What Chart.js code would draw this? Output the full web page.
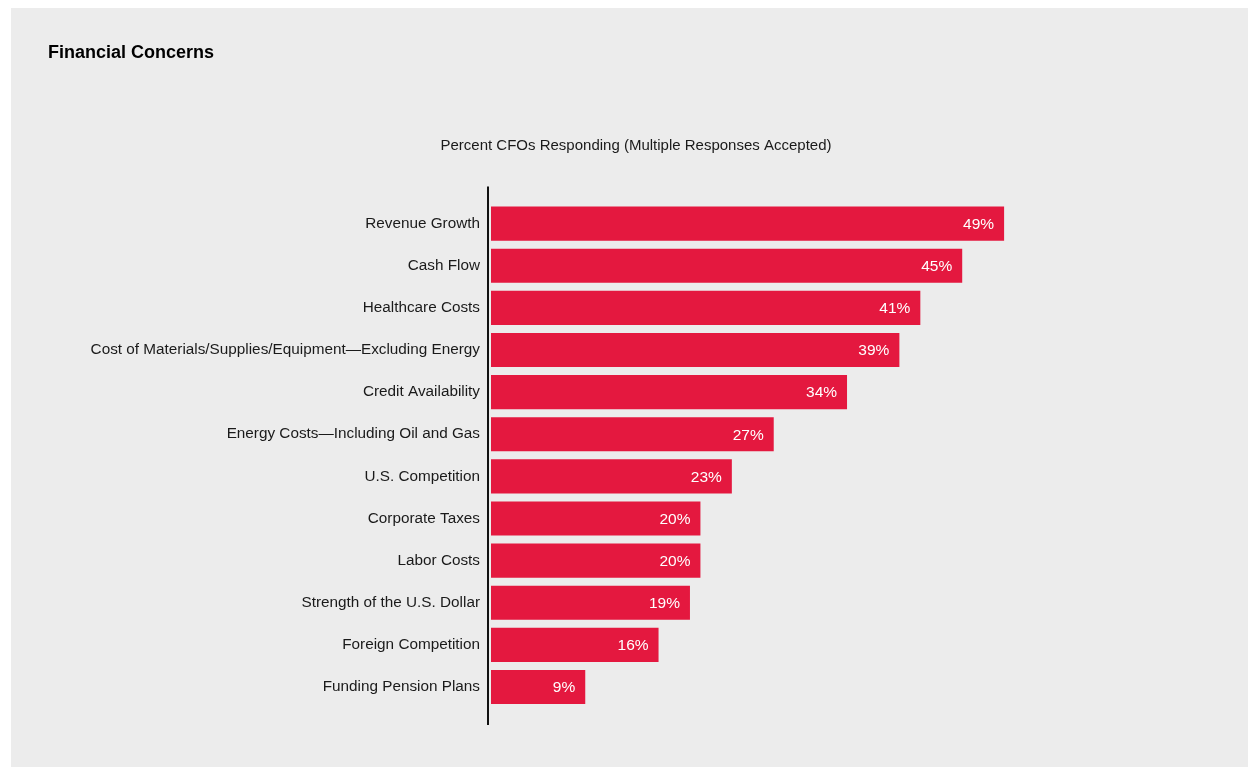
<!DOCTYPE html>
<html>
<head>
<meta charset="utf-8">
<script src="https://cdn.jsdelivr.net/npm/chart.js@4"></script>
<style>
  body { margin: 0; background: #ffffff; }
  #panel {
    position: absolute; left: 11px; top: 8px;
    width: 1237px; height: 759px; background: #ececec;
  }
</style>
</head>
<body>
<div id="panel"><canvas id="chart" width="1237" height="759"></canvas></div>
<script>
const categories = [
    "Revenue Growth",
    "Cash Flow",
    "Healthcare Costs",
    "Cost of Materials/Supplies/Equipment\u2014Excluding Energy",
    "Credit Availability",
    "Energy Costs\u2014Including Oil and Gas",
    "U.S. Competition",
    "Corporate Taxes",
    "Labor Costs",
    "Strength of the U.S. Dollar",
    "Foreign Competition",
    "Funding Pension Plans"
];
const percents = [49, 45, 41, 39, 34, 27, 23, 20, 20, 19, 16, 9];

const FONT = "'Liberation Sans', Arial, sans-serif";

// value labels inside the bar ends, plus the long axis line
const barLabels = {
    id: "barLabels",
    afterDatasetsDraw(chart) {
        const ctx = chart.ctx;
        const meta = chart.getDatasetMeta(0);
        ctx.save();
        ctx.font = "15.5px " + FONT;
        ctx.fillStyle = "#ffffff";
        ctx.textAlign = "right";
        ctx.textBaseline = "middle";
        meta.data.forEach((bar, i) => {
            ctx.fillText(percents[i] + "%", bar.x - 10, bar.y + 1);
        });
        const area = chart.chartArea;
        ctx.strokeStyle = "#111111";
        ctx.lineWidth = 2;
        ctx.beginPath();
        ctx.moveTo(area.left - 3, area.top - 16);
        ctx.lineTo(area.left - 3, area.bottom + 17);
        ctx.stroke();
        ctx.restore();
    }
};

new Chart(document.getElementById("chart").getContext("2d"), {
    type: "bar",
    data: {
        labels: categories,
        datasets: [{
            data: percents,
            backgroundColor: "#e4183f",
            barPercentage: 0.81,
            categoryPercentage: 1.0
        }]
    },
    options: {
        indexAxis: "y",
        responsive: false,
        animation: false,
        layout: { padding: { left: 37, right: 24, top: 0, bottom: 59 } },
        plugins: {
            legend: { display: false },
            tooltip: { enabled: false },
            title: {
                display: true,
                text: "Financial Concerns",
                align: "start",
                color: "#000000",
                font: { family: FONT, size: 18, weight: "bold", lineHeight: 1.2 },
                padding: { top: 34, bottom: 0 }
            },
            subtitle: {
                display: true,
                text: "Percent CFOs Responding (Multiple Responses Accepted)",
                color: "#1a1a1a",
                font: { family: FONT, size: 15, lineHeight: 1.2 },
                padding: { top: 73, bottom: 48 }
            }
        },
        scales: {
            x: {
                display: false,
                min: 0,
                max: 70
            },
            y: {
                grid: { display: false, drawTicks: false },
                border: { display: false },
                ticks: {
                    color: "#1a1a1a",
                    padding: 11,
                    font: { family: FONT, size: 15.3 }
                },
                afterFit(scale) { scale.width = 443; }
            }
        }
    },
    plugins: [barLabels]
});
</script>
</body>
</html>
